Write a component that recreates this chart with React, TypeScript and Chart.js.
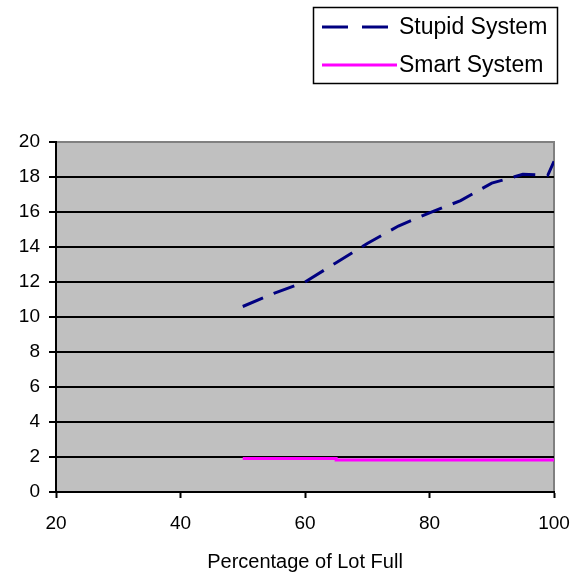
import React, { useEffect, useRef } from "react";
import { Chart, registerables } from "chart.js";

Chart.register(...registerables);

const FONT = "'Liberation Sans', Arial, sans-serif";

const xTicks = [20, 40, 60, 80, 100];
const yTicks = [0, 2, 4, 6, 8, 10, 12, 14, 16, 18, 20];

const stupidLabel = "Stupid System";
const stupidX = [50, 55, 60, 65, 70, 75, 80, 85, 90, 95, 99, 100];
const stupidY = [10.6, 11.35, 12.0, 13.1, 14.2, 15.2, 15.95, 16.65, 17.65, 18.15, 18.1, 18.9];

const smartLabel = "Smart System";
const smartX = [50, 65, 65, 100];
const smartY = [1.92, 1.92, 1.83, 1.83];

const xTitle = "Percentage of Lot Full";

const toPoints = (xs: number[], ys: number[]) => xs.map((x, i) => ({ x, y: ys[i] }));

const plotBgPlugin = {
  id: "plotBg",
  beforeDraw(chart: any) {
    const { ctx, chartArea: a } = chart;
    ctx.save();
    ctx.fillStyle = "#C0C0C0";
    ctx.fillRect(a.left, a.top, a.right - a.left, a.bottom - a.top);
    ctx.strokeStyle = "#808080";
    ctx.lineWidth = 2;
    ctx.strokeRect(a.left, a.top, a.right - a.left, a.bottom - a.top);
    ctx.restore();
  },
};

const boxLegendPlugin = {
  id: "boxLegend",
  afterDraw(chart: any) {
    const { ctx } = chart;
    const box = { x: 313.5, y: 7.5, w: 244, h: 76 };
    ctx.save();
    ctx.strokeStyle = "#000";
    ctx.lineWidth = 1.5;
    ctx.strokeRect(box.x, box.y, box.w, box.h);
    const rows = [27, 65];
    chart.data.datasets.forEach((ds: any, i: number) => {
      const y = rows[i];
      ctx.beginPath();
      ctx.strokeStyle = ds.borderColor;
      ctx.lineWidth = ds.borderWidth;
      ctx.setLineDash(ds.legendDash || []);
      ctx.moveTo(322, y);
      ctx.lineTo(ds.legendDash ? 389 : 397, y);
      ctx.stroke();
      ctx.setLineDash([]);
      ctx.fillStyle = "#000";
      ctx.font = `23px ${FONT}`;
      ctx.textBaseline = "middle";
      ctx.textAlign = "left";
      ctx.fillText(ds.label, 399, y + 1);
    });
    ctx.restore();
  },
};

export default function App() {
  const ref = useRef<HTMLCanvasElement | null>(null);
  useEffect(() => {
    if (!ref.current) return;
    const chart = new Chart(ref.current, {
      type: "line",
      data: {
        datasets: [
          {
            label: stupidLabel,
            data: toPoints(stupidX, stupidY),
            borderColor: "#000080",
            borderWidth: 3,
            borderDash: [22, 11.5],
            borderDashOffset: 0,
            legendDash: [26, 14],
            pointRadius: 0,
            tension: 0,
            fill: false,
          } as any,
          {
            label: smartLabel,
            data: toPoints(smartX, smartY),
            borderColor: "#FF00FF",
            borderWidth: 3,
            pointRadius: 0,
            tension: 0,
            fill: false,
          },
        ],
      },
      options: {
        responsive: false,
        animation: false,
        layout: { padding: { left: 0, right: 24, top: 142, bottom: 0 } },
        plugins: { legend: { display: false }, tooltip: { enabled: false } },
        scales: {
          x: {
            type: "linear",
            min: 20,
            max: 100,
            afterFit: (s: any) => {
              s.height = 82;
              s.paddingLeft = 0;
              s.paddingRight = 0;
            },
            afterBuildTicks: (s: any) => {
              s.ticks = xTicks.map((v) => ({ value: v }));
            },
            ticks: {
              color: "#000",
              font: { family: FONT, size: 19 },
              padding: 14,
              maxRotation: 0,
            },
            grid: {
              drawOnChartArea: false,
              drawTicks: true,
              tickLength: 6,
              tickColor: "#000",
              tickWidth: 2,
            },
            border: { color: "#000", width: 2 },
            title: {
              display: true,
              text: xTitle,
              color: "#000",
              font: { family: FONT, size: 20 },
              padding: { top: 0, bottom: 0 },
            },
          },
          y: {
            min: 0,
            max: 20,
            afterFit: (s: any) => {
              s.width = 56;
            },
            afterBuildTicks: (s: any) => {
              s.ticks = yTicks.map((v) => ({ value: v }));
            },
            ticks: {
              color: "#000",
              font: { family: FONT, size: 19 },
              padding: 9,
            },
            grid: {
              color: (c: any) => (c.tick && c.tick.value === 20 ? "#808080" : "#000"),
              tickColor: "#000",
              lineWidth: 2,
              tickLength: 7,
            },
            border: { color: "#000", width: 2 },
          },
        },
      } as any,
      plugins: [plotBgPlugin, boxLegendPlugin],
    });
    return () => chart.destroy();
  }, []);
  return (
    <div style={{ position: "fixed", left: 0, top: 0, width: 578, height: 574, background: "#fff" }}>
      <canvas ref={ref} width={578} height={574} style={{ display: "block" }} />
    </div>
  );
}
